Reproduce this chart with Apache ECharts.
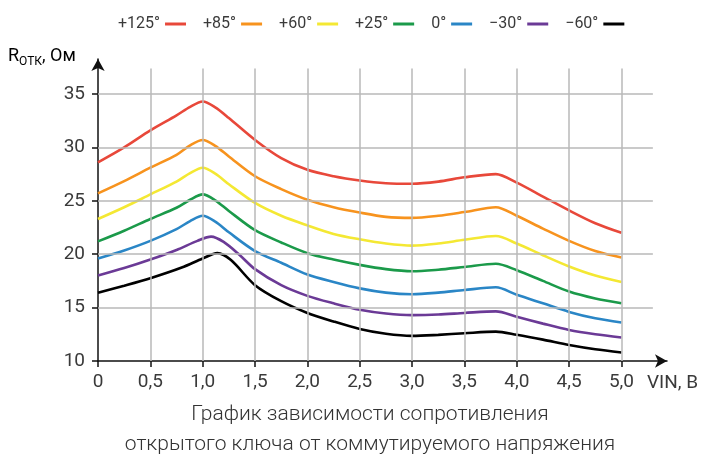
<!DOCTYPE html>
<html><head><meta charset="utf-8">
<script src="https://cdn.jsdelivr.net/npm/echarts@6/dist/echarts.min.js"></script>
<style>html,body{margin:0;padding:0;background:#fff}#c{width:706px;height:461px}</style>
</head><body><div id="c"></div>
<script>
const seriesNames = ['+125°','+85°','+60°','+25°','0°','\u221230°','\u221260°'];
// x positions (V) for each curve
const xMain   = [0,0.25,0.5,0.75,0.88,1.0,1.12,1.25,1.5,1.75,2.0,2.25,2.5,2.75,3.0,3.25,3.5,3.8,4.0,4.25,4.5,4.75,5.0];
const xPurple = [0,0.25,0.5,0.75,0.95,1.08,1.2,1.35,1.5,1.75,2.0,2.25,2.5,2.75,3.0,3.25,3.5,3.8,4.0,4.25,4.5,4.75,5.0];
const xBlack  = [0,0.25,0.5,0.8,1.0,1.14,1.27,1.5,1.75,2.0,2.25,2.5,2.75,3.0,3.25,3.5,3.8,4.0,4.25,4.5,4.75,5.0];
// resistance values (Ohm)
const r125 = [28.6,30.0,31.6,33.0,33.8,34.3,33.75,32.75,30.7,29.0,27.9,27.3,26.9,26.65,26.6,26.8,27.2,27.5,26.7,25.4,24.1,22.9,22.0];
const r85  = [25.7,26.85,28.1,29.3,30.2,30.7,30.15,29.15,27.3,26.1,25.1,24.4,23.9,23.5,23.4,23.6,23.95,24.4,23.6,22.4,21.25,20.3,19.7];
const r60  = [23.3,24.4,25.6,26.8,27.6,28.1,27.55,26.55,24.8,23.6,22.7,21.9,21.4,21.0,20.8,21.0,21.35,21.7,21.0,19.9,18.85,18.0,17.4];
const r25  = [21.2,22.2,23.3,24.35,25.1,25.6,25.05,24.05,22.25,21.1,20.1,19.5,19.0,18.6,18.4,18.55,18.8,19.1,18.5,17.5,16.5,15.85,15.4];
const r0   = [19.6,20.35,21.25,22.35,23.1,23.6,23.05,22.05,20.3,19.2,18.1,17.4,16.8,16.4,16.25,16.4,16.65,16.9,16.2,15.4,14.6,14.0,13.6];
const rm30 = [18.0,18.7,19.5,20.4,21.25,21.65,21.15,19.95,18.6,17.1,16.1,15.4,14.8,14.45,14.3,14.35,14.5,14.65,14.15,13.5,12.9,12.5,12.2];
const rm60 = [16.4,17.05,17.75,18.75,19.6,20.1,19.45,17.1,15.6,14.5,13.7,13.0,12.55,12.35,12.45,12.6,12.75,12.45,12.0,11.5,11.1,10.8];
const xTicks = [0,0.5,1.0,1.5,2.0,2.5,3.0,3.5,4.0,4.5,5.0];
const yTicks = [10,15,20,25,30,35];
const colors = ['#e8483a','#f7931e','#f4e833','#1b9a4a','#2a86c6','#6b3a96','#000000'];
const allData = [r125,r85,r60,r25,r0,rm30,rm60];
const allX = [xMain,xMain,xMain,xMain,xMain,xPurple,xBlack];

const gridColor = '#b8b8b8';
const hLines = yTicks.filter(v=>v>10).map(v=>[{coord:[0,v]},{coord:[5.3,v]}]);
const vLines = xTicks.filter(v=>v>0).map(v=>[{coord:[v,10]},{coord:[v,37.4]}]);

const series = allData.map((arr,i)=>({
  name: seriesNames[i], type:'line', smooth:0.3, symbol:'none',
  data: arr.map((y,j)=>[allX[i][j],y]),
  lineStyle:{color:colors[i],width:2.6}, itemStyle:{color:colors[i]}, z:3
}));
series.unshift({
  name:'grid', type:'line', data:[], silent:true, z:1,
  markLine:{silent:true, symbol:'none', label:{show:false},
    lineStyle:{color:gridColor,width:1.5,type:'solid'},
    emphasis:{disabled:true},
    data: hLines.concat(vLines)}
});

const chart = echarts.init(document.getElementById('c'));
const labelFont = {fontFamily:'Roboto', fontSize:19, color:'#3a3a3a'};
chart.setOption({
  animation:false,
  color: colors,
  legend:{
    data: seriesNames, left:113, top:11, align:'right', icon:'rect',
    itemWidth:21, itemHeight:3, itemGap:17,
    textStyle:{fontFamily:'Roboto', fontSize:16, color:'#3a3a3a'}
  },
  grid:{left:98, right:39, top:59, bottom:100},
  xAxis:{
    type:'value', min:0, max:5.435,
    axisLine:{show:true, lineStyle:{color:'#111',width:1.5}, symbol:['none','arrow'], symbolSize:[10,12], symbolOffset:[0,0]},
    axisTick:{show:true, length:6, customValues:xTicks, lineStyle:{color:'#111',width:1.5}},
    axisLabel:Object.assign({customValues:xTicks, margin:12,
      formatter:v=> v===0 ? '0' : v.toFixed(1).replace('.',',')}, labelFont),
    splitLine:{show:false}
  },
  yAxis:{
    type:'value', min:10, max:38.28,
    axisLine:{show:true, lineStyle:{color:'#111',width:1.5}, symbol:['none','arrow'], symbolSize:[10,12], symbolOffset:[0,0]},
    axisTick:{show:true, length:6, customValues:yTicks, lineStyle:{color:'#111',width:1.5}},
    axisLabel:Object.assign({customValues:yTicks, margin:13, formatter:v=>String(v)}, labelFont),
    splitLine:{show:false}
  },
  graphic:[
    {type:'text', left:8, top:47, style:{
      text:'{r|R}{s|ОТК}{r|, Ом}',
      rich:{r:{fontFamily:'Roboto',fontSize:18,color:'#3a3a3a'}, s:{fontFamily:'Roboto',fontSize:12,color:'#3a3a3a',padding:[11,0,0,0]}}
    }},
    {type:'text', left:647, top:374, style:{text:'VIN, В', fontFamily:'Roboto', fontSize:19, fill:'#3a3a3a'}},
    {type:'text', x:370, y:404, style:{text:'График зависимости сопротивления', fontFamily:'Roboto', fontSize:21, fontWeight:300, fill:'#333', align:'center'}},
    {type:'text', x:370, y:434, style:{text:'открытого ключа от коммутируемого напряжения', fontFamily:'Roboto', fontSize:21, fontWeight:300, fill:'#333', align:'center'}}
  ],
  series: series
});
</script></body></html>
